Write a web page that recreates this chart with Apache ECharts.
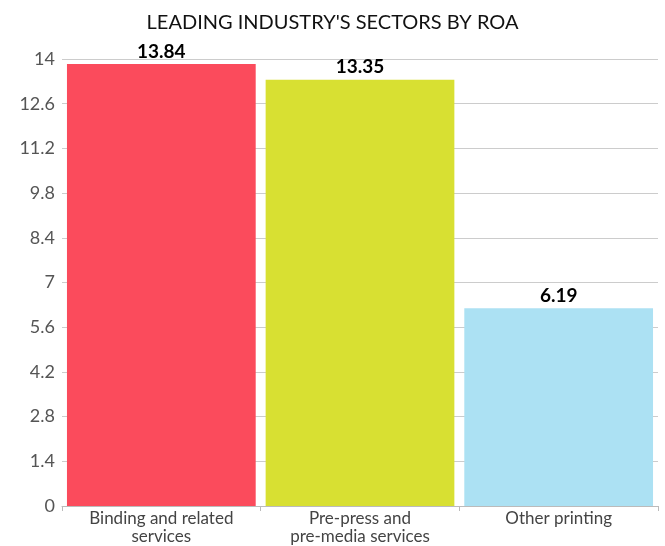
<!DOCTYPE html>
<html><head><meta charset="utf-8">
<script src="https://cdn.jsdelivr.net/npm/echarts@6/dist/echarts.min.js"></script>
<style>html,body{margin:0;padding:0;background:#fff}#c{width:665px;height:546px}</style>
</head><body><div id="c"></div>
<script>
const categories = ['Binding and related\nservices', 'Pre-press and\npre-media services', 'Other printing'];
const values = [13.84, 13.35, 6.19];
const colors = ['#fb4b5c', '#d8e032', '#ace1f3'];
const chart = echarts.init(document.getElementById('c'));
chart.setOption({
  animation: false,
  title: { text: "LEADING INDUSTRY'S SECTORS BY ROA", left: 'center', top: 8,
    textStyle: { fontFamily: 'Lato', fontWeight: 'normal', fontSize: 20, color: '#111' } },
  grid: { left: 62, right: 7, top: 59, bottom: 34 },
  xAxis: { type: 'category', data: categories,
    axisLine: { lineStyle: { color: '#bbb' } },
    axisTick: { show: true, lineStyle: { color: '#bbb' } },
    axisLabel: { fontFamily: 'Lato', fontSize: 17, color: '#444', lineHeight: 18, margin: 4 } },
  yAxis: { type: 'value', min: 0, max: 14, interval: 1.4,
    axisLine: { show: false }, axisTick: { show: false },
    splitLine: { lineStyle: { color: '#ccc' } },
    axisLabel: { fontFamily: 'Lato', fontSize: 18, color: '#555', margin: 7 } },
  series: [{ type: 'bar', barCategoryGap: '5%',
    data: values.map((v, i) => ({ value: v, itemStyle: { color: colors[i] } })),
    label: { show: true, position: 'top', distance: 3, fontFamily: 'Lato', fontWeight: 'bold', fontSize: 19, color: '#000' } }]
});
</script></body></html>
